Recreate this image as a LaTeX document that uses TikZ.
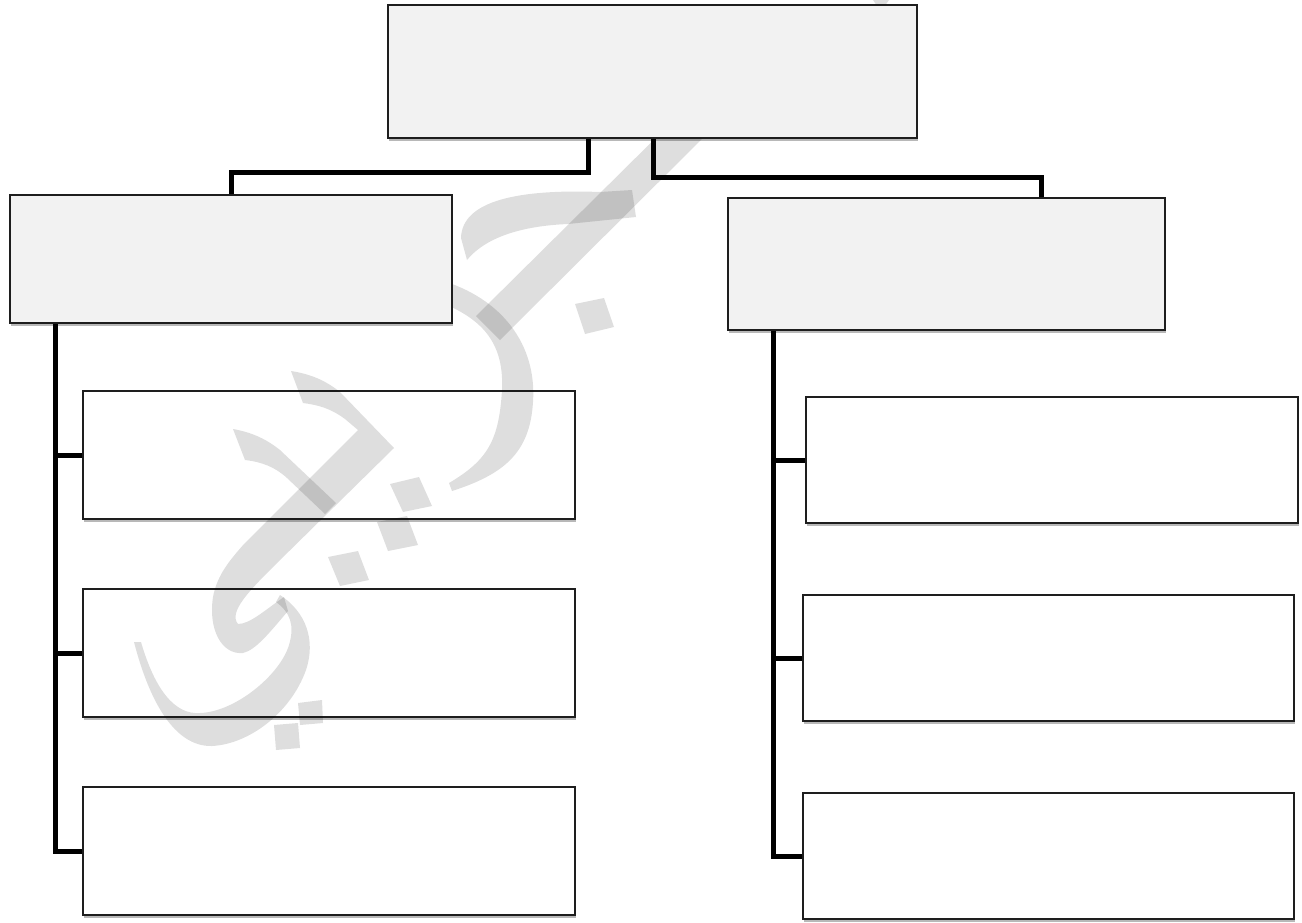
\documentclass[tikz,border=0pt]{standalone}
\usetikzlibrary{shadows,fit,calc}
\definecolor{boxgray}{HTML}{F2F2F2}
\definecolor{edgecol}{HTML}{1E1E1E}
\tikzset{
  boxshadow/.style={drop shadow={shadow xshift=0.6pt, shadow yshift=-1.6pt, opacity=0.28, fill=black}},
  graybox/.style={draw=edgecol, line width=1.4pt, fill=boxgray, boxshadow, inner sep=0pt, rectangle},
  whitebox/.style={draw=edgecol, line width=1.3pt, fill=white, boxshadow, inner sep=0pt, rectangle},
  conn/.style={line width=2.5pt, black, line join=miter},
  wm/.style={fill=black, fill opacity=0.13},
}
\begin{document}
\begin{tikzpicture}[x=0.5pt,y=-0.5pt]
\useasboundingbox (0,0) rectangle (1302,922);
\fill[white] (0,0) rectangle (1302,922);

% child boxes
\node[whitebox, fit={(83,391)(575,519)}] (l1) {};
\node[whitebox, fit={(83,589)(575,717)}] (l2) {};
\node[whitebox, fit={(83,787)(575,915)}] (l3) {};
\node[whitebox, fit={(806,397)(1298,523)}] (r1) {};
\node[whitebox, fit={(803,595)(1294,721)}] (r2) {};
\node[whitebox, fit={(803,793)(1294,919)}] (r3) {};

% watermark (behind the grey boxes)
\fill[wm] (690,104) -- (714,127) -- (500,340) -- (476,316) -- cycle;
\fill[wm] (632,190) -- (600,192) .. controls (520,189) and (462,200) .. (461,238)
  -- (467,260) .. controls (485,238) and (520,226) .. (568,224) -- (636,217) -- cycle;
\fill[wm] (440,280) .. controls (502,298) and (537,345) .. (533,402)
  .. controls (530,452) and (505,474) .. (452,491) -- (449,483)
  .. controls (488,460) and (499,440) .. (502,390)
  .. controls (504,345) and (485,320) .. (440,302) -- cycle;
\fill[wm] (291,371) .. controls (310,374) and (325,380) .. (340,392) -- (394,448)
  -- (275,565) .. controls (250,590) and (228,612) .. (238,624)
  .. controls (250,624) and (265,610) .. (284,597) -- (288,611)
  .. controls (270,632) and (256,650) .. (243,653)
  .. controls (222,655) and (208,630) .. (213,597)
  .. controls (217,575) and (230,560) .. (244,544) -- (358,430) -- (345,419)
  .. controls (330,408) and (318,405) .. (303,403) -- cycle;
\fill[wm] (280,595) .. controls (306,612) and (316,640) .. (306,670)
  .. controls (291,712) and (250,744) .. (212,746)
  .. controls (174,747) and (149,700) .. (134,642) -- (141,642)
  .. controls (155,690) and (175,715) .. (200,713)
  .. controls (235,712) and (280,675) .. (289,645)
  .. controls (295,625) and (290,612) .. (276,602) -- cycle;
\fill[wm] (233,429) .. controls (250,432) and (265,438) .. (280,450) -- (336,503)
  -- (325,514) -- (287,478) .. controls (275,467) and (262,462) .. (245,460) -- cycle;
\fill[wm] (575,304) -- (604,298) -- (614,327) -- (585,334) -- cycle;
\fill[wm] (390,484) -- (419,477) -- (432,506) -- (403,512) -- cycle;
\fill[wm] (377,522) -- (407,516) -- (418,545) -- (388,551) -- cycle;
\fill[wm] (328,557) -- (358,551) -- (369,580) -- (340,586) -- cycle;
\fill[wm] (298,703) -- (322,700) -- (323,723) -- (300,725) -- cycle;
\fill[wm] (274,725) -- (298,723) -- (300,748) -- (276,750) -- cycle;
\fill[wm] (873,0) -- (889,0) -- (884,7) -- (877,6) -- cycle;

% grey boxes
\node[graybox, fit={(388,5)(917,138)}] (top) {};
\node[graybox, fit={(10,195)(452,323)}] (lm) {};
\node[graybox, fit={(728,198)(1165,330)}] (rm) {};

% connectors
\coordinate (jl) at (588,172);
\coordinate (jr) at (653,177);
\coordinate (rdrop) at (1041,0);
\coordinate (lt) at (55,0);
\coordinate (rt) at (773,0);
\draw[conn] (top.south -| jl) -- (jl) -| (lm.north);
\draw[conn] (top.south -| jr) -- (jr) -| (rm.north -| rdrop);
\draw[conn] (lm.south -| lt) |- (l3.west);
\draw[conn] (l1.west -| lt) -- (l1.west);
\draw[conn] (l2.west -| lt) -- (l2.west);
\draw[conn] (rm.south -| rt) |- (r3.west);
\draw[conn] (r1.west -| rt) -- (r1.west);
\draw[conn] (r2.west -| rt) -- (r2.west);
\end{tikzpicture}
\end{document}
